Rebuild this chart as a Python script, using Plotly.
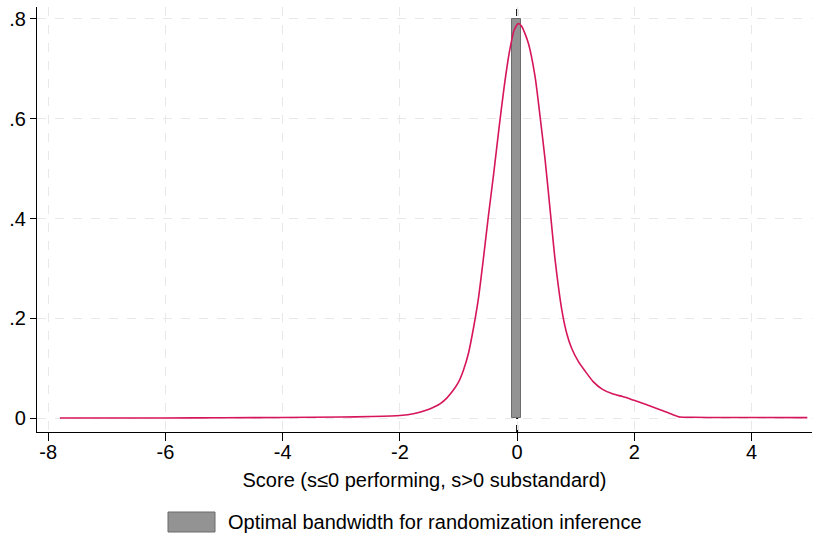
import plotly.graph_objects as go

# Estimated density of the running score
score = [-7.8, -6.0, -5.0, -4.0, -3.0, -2.5, -2.0, -1.75, -1.54, -1.4, -1.31, -1.2, -1.1,
         -1.0, -0.916, -0.83, -0.745, -0.66, -0.575, -0.49, -0.40, -0.31, -0.22,
         -0.13, -0.05, 0.022, 0.08, 0.193, 0.307, 0.392, 0.478, 0.563, 0.648, 0.762,
         0.85, 0.93, 1.046, 1.16, 1.297, 1.45, 1.638, 1.8, 1.98, 2.2, 2.45, 2.65, 2.78,
         3.0, 3.5, 4.0, 4.95]
density = [0.0, 0.0, 0.0005, 0.001, 0.002, 0.003, 0.005, 0.009, 0.016, 0.023, 0.029, 0.040, 0.054,
           0.072, 0.096, 0.130, 0.180, 0.240, 0.320, 0.405, 0.490, 0.580, 0.665,
           0.735, 0.778, 0.791, 0.785, 0.751, 0.684, 0.604, 0.517, 0.417, 0.317, 0.217,
           0.168, 0.140, 0.113, 0.094, 0.073, 0.058, 0.048, 0.043, 0.036, 0.027, 0.016, 0.007, 0.002,
           0.0015, 0.001, 0.001, 0.0008]

# Optimal bandwidth window for randomization inference
bw_left, bw_right = -0.085, 0.068
bw_height = 0.8

x_ticks = [-8, -6, -4, -2, 0, 2, 4]
x_tick_labels = ["-8", "-6", "-4", "-2", "0", "2", "4"]
y_ticks = [0, 0.2, 0.4, 0.6, 0.8]
y_tick_labels = ["0", ".2", ".4", ".6", ".8"]

legend_label = "Optimal bandwidth for randomization inference"
x_title = "Score (s\u22640 performing, s>0 substandard)"

font_family = "Liberation Sans, Arial, sans-serif"
font_size = 20
bar_fill = "#939393"
bar_edge = "#6b6b6b"
curve_color = "#d6155a"

fig = go.Figure()

fig.add_trace(go.Bar(
    x=[(bw_left + bw_right) / 2], y=[bw_height], base=0,
    width=[bw_right - bw_left],
    marker=dict(color=bar_fill, line=dict(color=bar_edge, width=1)),
    showlegend=False, hoverinfo="skip",
))

fig.add_trace(go.Scatter(
    x=score, y=density, mode="lines",
    line=dict(color=curve_color, width=1.6, shape="spline", smoothing=0.6),
    showlegend=False,
))

# Cutoff line at zero
fig.add_shape(type="line", xref="x", yref="paper", x0=0, x1=0, y0=0, y1=1,
              line=dict(color="black", width=2, dash="7px,6px"), layer="below")

# Legend key
fig.add_shape(type="rect", xref="paper", yref="paper",
              x0=(168 - 37) / 775, x1=(215 - 37) / 775,
              y0=-(512 - 432) / 425, y1=-(532 - 432) / 425,
              fillcolor=bar_fill, line=dict(color=bar_edge, width=1))
fig.add_annotation(xref="paper", yref="paper", x=(226 - 37) / 775, y=-(522 - 432) / 425,
                   text=legend_label, showarrow=False, xanchor="left", yanchor="middle",
                   font=dict(family=font_family, size=font_size, color="black"))

grid = dict(showgrid=True, gridcolor="#e8e8e8", griddash="dash", gridwidth=1.2)

fig.update_layout(
    width=814, height=537,
    margin=dict(l=37, r=2, t=7, b=105),
    paper_bgcolor="white", plot_bgcolor="white",
    font=dict(family=font_family, size=font_size, color="black"),
    bargap=0,
    xaxis=dict(range=[-8.19, 5.03], tickvals=x_ticks, ticktext=x_tick_labels,
               ticks="outside", ticklen=8, tickcolor="black", showline=True,
               linecolor="black", linewidth=1.2, zeroline=False,
               ticklabelstandoff=-6,
               title=dict(text=x_title, standoff=10, font=dict(size=font_size)),
               tickfont=dict(size=font_size), **grid),
    yaxis=dict(range=[-0.028, 0.824], tickvals=y_ticks, ticktext=y_tick_labels,
               ticks="outside", ticklen=6, tickcolor="black", showline=True,
               linecolor="black", linewidth=1.2, zeroline=False,
               tickfont=dict(size=font_size), **grid),
)

fig.write_html("out.html")
